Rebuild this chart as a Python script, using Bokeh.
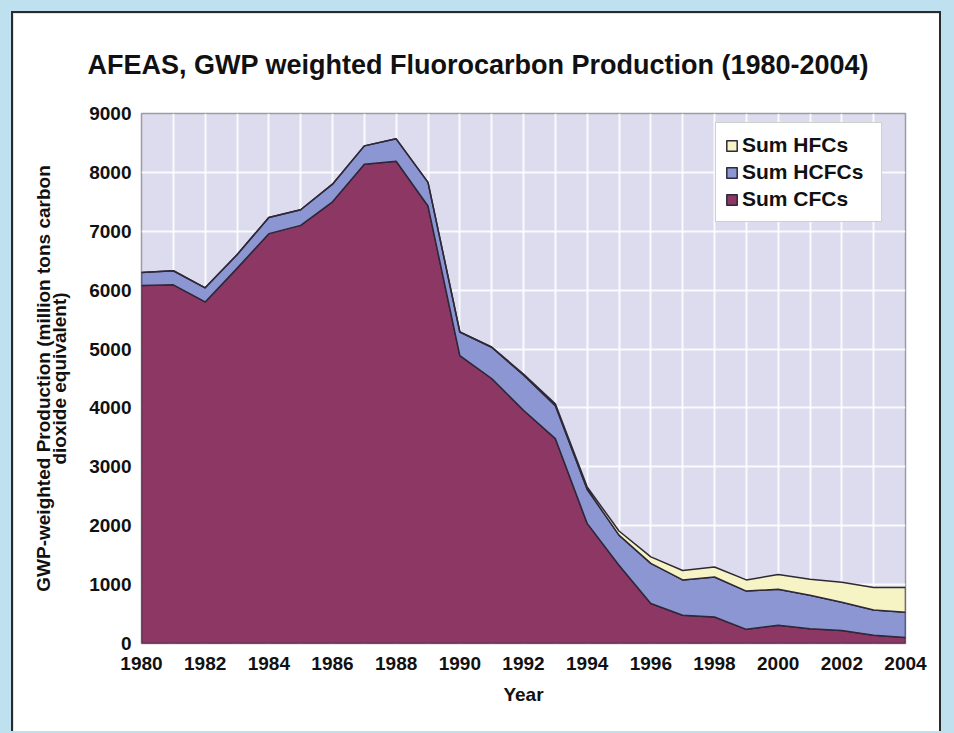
from bokeh.plotting import figure
from bokeh.models import Range1d, FixedTicker, Legend, LegendItem
from bokeh.embed import file_html
from bokeh.resources import INLINE

# ---- data ----
years = list(range(1980, 2005))
cfc = [6080, 6090, 5800, 6370, 6960, 7100, 7500, 8140, 8190, 7430, 4890, 4500, 3960,
       3480, 2040, 1330, 680, 480, 450, 240, 310, 250, 220, 140, 100]
hcfc = [220, 240, 240, 230, 275, 265, 300, 310, 380, 400, 400, 530, 600,
        560, 580, 510, 680, 600, 680, 650, 610, 570, 480, 430, 430]
hfc = [0, 0, 0, 0, 0, 0, 0, 0, 0, 0, 0, 5, 15,
       30, 40, 70, 110, 160, 170, 190, 250, 270, 340, 380, 420]
x_ticks = list(range(1980, 2005, 2))
y_ticks = list(range(0, 9001, 1000))

title_text = "AFEAS, GWP weighted Fluorocarbon Production (1980-2004)"
y_label = "GWP-weighted Production (million tons carbon\ndioxide equivalent)"
x_label = "Year"
names = ["Sum CFCs", "Sum HCFCs", "Sum HFCs"]
colors = ["#8c3764", "#8c96d2", "#f6f4c4"]

FONT = "Liberation Sans"

p = figure(width=930, height=720, output_backend="svg", toolbar_location=None,
           x_range=Range1d(1980, 2004), y_range=Range1d(0, 9000),
           min_border_left=128, min_border_right=38, min_border_top=99,
           min_border_bottom=90)
p.background_fill_color = "#dcdcee"
p.border_fill_color = "white"
p.outline_line_color = "#9a9aa8"
p.outline_line_width = 1.5

# title
p.title.text = title_text
p.title.text_font = FONT
p.title.text_font_size = "27px"
p.title.text_font_style = "bold"
p.title.text_color = "#111111"
p.title.align = "left"
p.title.offset = -54
p.title.standoff = 68

# grid
p.xgrid.ticker = FixedTicker(ticks=years)
p.ygrid.ticker = FixedTicker(ticks=y_ticks)
for g in (p.xgrid, p.ygrid):
    g.grid_line_color = "white"
    g.grid_line_width = 2
    g.grid_line_alpha = 0.85

# axes
for ax in (p.xaxis, p.yaxis):
    ax.axis_line_color = None
    ax.major_tick_line_color = None
    ax.minor_tick_line_color = None
    ax.major_tick_in = 0
    ax.major_tick_out = 0
    ax.major_label_text_font = FONT
    ax.major_label_text_font_style = "bold"
    ax.major_label_text_font_size = "19px"
    ax.major_label_text_color = "#111111"
    ax.axis_label_text_font = FONT
    ax.axis_label_text_font_style = "bold"
    ax.axis_label_text_color = "#111111"
p.xaxis.ticker = FixedTicker(ticks=x_ticks)
p.yaxis.ticker = FixedTicker(ticks=y_ticks)
p.xaxis.major_label_standoff = 13
p.yaxis.major_label_standoff = 10
p.xaxis.axis_label = x_label
p.xaxis.axis_label_text_font_size = "19px"
p.xaxis.axis_label_standoff = 11
p.yaxis.axis_label = y_label
p.yaxis.axis_label_text_font_size = "19px"
p.yaxis.axis_label_text_line_height = 0.75
p.yaxis.axis_label_standoff = 16

# stacked areas
lower = [0] * len(years)
renderers = []
for name, vals, col in zip(names, [cfc, hcfc, hfc], colors):
    upper = [a + b for a, b in zip(lower, vals)]
    xs = years + years[::-1]
    ys = upper + lower[::-1]
    r = p.patch(xs, ys, fill_color=col, line_color="#2e2838", line_width=1.5,
                line_join="round")
    renderers.append(r)
    lower = upper

legend = Legend(items=[LegendItem(label=names[2], renderers=[renderers[2]]),
                       LegendItem(label=names[1], renderers=[renderers[1]]),
                       LegendItem(label=names[0], renderers=[renderers[0]])],
                location=(574, 421))
legend.label_text_font = FONT
legend.label_text_font_style = "bold"
legend.label_text_font_size = "21px"
legend.label_text_color = "#111111"
legend.glyph_width = 13
legend.glyph_height = 13
legend.label_standoff = 4
legend.label_height = 26
legend.label_width = 130
legend.spacing = 1
legend.padding = 9
legend.margin = 0
legend.border_line_color = "#a0a0a0"
legend.border_line_width = 1.5
legend.background_fill_color = "white"
legend.background_fill_alpha = 1.0
p.add_layout(legend)

p.styles = {"margin-left": "11px", "margin-top": "11px",
            "border-left": "2px solid #2b2b2b", "border-top": "2px solid #2b2b2b",
            "border-right": "2px solid #2b2b2b"}

html = file_html(p, INLINE)
css = ("<style>html, body { background: #bfe0ee !important; overflow: hidden !important; }"
       "</style>")
html = html.replace("</head>", css + "</head>", 1)
open("out.html", "w").write(html)
